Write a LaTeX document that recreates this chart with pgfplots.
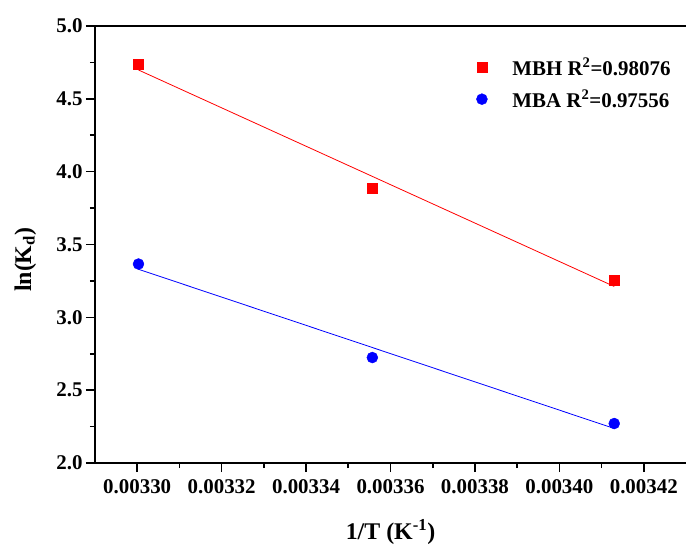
\documentclass[border=0pt]{standalone}
\usepackage{fontspec}
\setmainfont{Liberation Serif}
\usepackage{pgfplots}
\pgfplotsset{compat=1.18}
\begin{document}
\begin{tikzpicture}
\begin{axis}[
  scale only axis, width=591bp, height=437bp,
  xmin=0.00329, xmax=0.00343, ymin=2, ymax=5,
  clip=false,
  axis lines=left, axis line style={-, line width=1.6bp},
  tick align=outside, major tick length=9bp, minor tick length=5bp,
  every tick/.style={line width=1.6bp, black},
  scaled ticks=false,
  xtick={0.0033,0.00332,0.00334,0.00336,0.00338,0.0034,0.00342},
  xticklabels={0.00330,0.00332,0.00334,0.00336,0.00338,0.00340,0.00342},
  minor x tick num=1,
  ytick={2,2.5,3,3.5,4,4.5,5}, minor y tick num=1,
  /pgf/number format/assume math mode=true,
  yticklabel style={/pgf/number format/.cd, fixed, zerofill, precision=1},
  ticklabel style={font=\fontsize{21}{25}\selectfont\bfseries},
  xticklabel style={yshift=-4bp},
  xlabel={1/T (K\textsuperscript{-1})},
  ylabel={ln(K\textsubscript{d})},
  label style={font=\fontsize{24}{28}\selectfont\bfseries},
  xlabel style={at={(axis description cs:0.5,-0.176)}, anchor=base},
  ylabel style={at={(axis description cs:-0.118,0.465)}, anchor=center},
  legend style={draw=none, fill=none, at={(axis description cs:0.640,0.936)},
    anchor=north west, font=\fontsize{21}{25}\selectfont\bfseries,
    row sep=9bp, legend cell align=left,
    /tikz/every odd column/.append style={column sep=23bp}},
]
\addplot[red, line width=0.8bp, forget plot] coordinates {(0.0033003,4.698) (0.0034130,3.212)};
\addplot[blue, line width=0.8bp, forget plot] coordinates {(0.0033003,3.330) (0.0034130,2.237)};
\addplot[only marks, mark=square*, mark size=5bp, red] coordinates {
  (0.0033003,4.741) (0.0033557,3.884) (0.0034130,3.254)
};
\addlegendentry{MBH R\textsuperscript{2}=0.98076}
\addplot[only marks, mark=*, mark size=5.5bp, blue] coordinates {
  (0.0033003,3.366) (0.0033557,2.724) (0.0034130,2.271)
};
\addlegendentry{MBA R\textsuperscript{2}=0.97556}
\draw[line width=1.6bp] (rel axis cs:0,1) -- (rel axis cs:1,1);
\coordinate (bl) at (rel axis cs:0,0);
\coordinate (tr) at (rel axis cs:1,1);
\end{axis}
\pgfresetboundingbox
\path[use as bounding box] ([shift={(-95bp,-82bp)}]bl) rectangle ([shift={(0bp,26bp)}]tr);
\end{tikzpicture}
\end{document}
